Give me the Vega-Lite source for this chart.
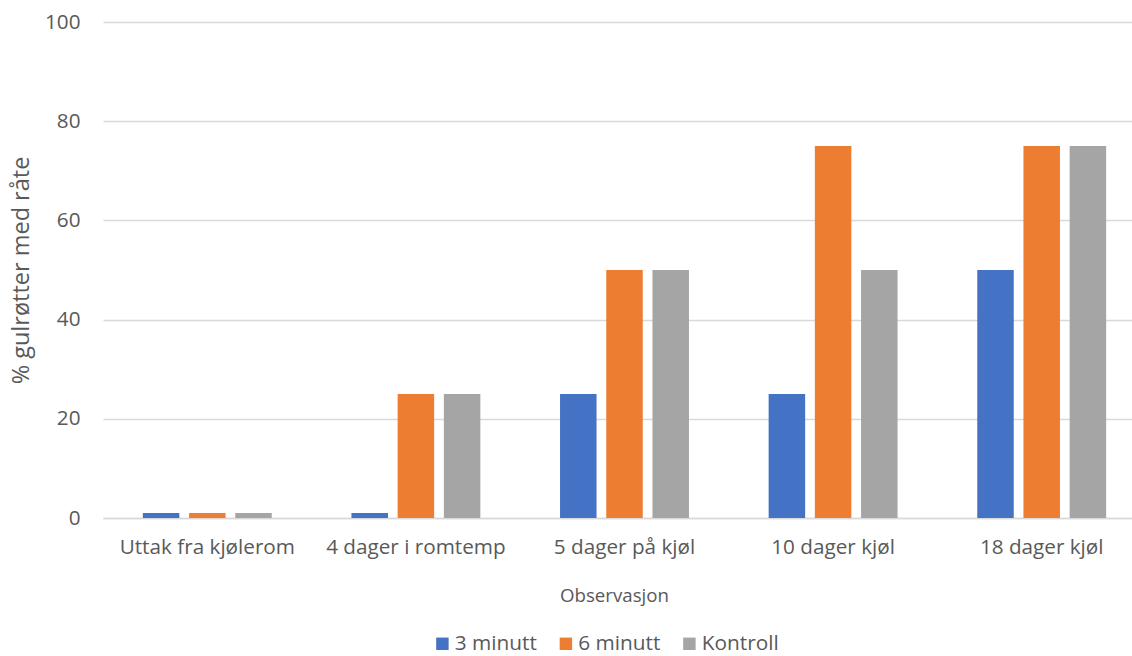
{
  "$schema": "https://vega.github.io/schema/vega-lite/v6.json",
  "autosize": "none",
  "width": 1029,
  "height": 496,
  "padding": {"left": 103, "top": 22, "right": 0, "bottom": 138},
  "background": "white",
  "config": {
    "font": "Open Sans",
    "view": {"stroke": null},
    "axis": {"labelColor": "#595959", "titleColor": "#595959", "labelFont": "Open Sans", "titleFont": "Open Sans", "titleFontWeight": "normal"}
  },
  "data": {
    "values": [
      {"obs": "Uttak fra kjølerom", "gruppe": "3 minutt", "pct": 1},
      {"obs": "Uttak fra kjølerom", "gruppe": "6 minutt", "pct": 1},
      {"obs": "Uttak fra kjølerom", "gruppe": "Kontroll", "pct": 1},
      {"obs": "4 dager i romtemp", "gruppe": "3 minutt", "pct": 1},
      {"obs": "4 dager i romtemp", "gruppe": "6 minutt", "pct": 25},
      {"obs": "4 dager i romtemp", "gruppe": "Kontroll", "pct": 25},
      {"obs": "5 dager på kjøl", "gruppe": "3 minutt", "pct": 25},
      {"obs": "5 dager på kjøl", "gruppe": "6 minutt", "pct": 50},
      {"obs": "5 dager på kjøl", "gruppe": "Kontroll", "pct": 50},
      {"obs": "10 dager kjøl", "gruppe": "3 minutt", "pct": 25},
      {"obs": "10 dager kjøl", "gruppe": "6 minutt", "pct": 75},
      {"obs": "10 dager kjøl", "gruppe": "Kontroll", "pct": 50},
      {"obs": "18 dager kjøl", "gruppe": "3 minutt", "pct": 50},
      {"obs": "18 dager kjøl", "gruppe": "6 minutt", "pct": 75},
      {"obs": "18 dager kjøl", "gruppe": "Kontroll", "pct": 75}
    ]
  },
  "mark": {"type": "bar"},
  "encoding": {
    "x": {
      "field": "obs",
      "type": "nominal",
      "sort": null,
      "scale": {"range": [0, 1043], "paddingInner": 0.382, "paddingOuter": 0.191},
      "axis": {
        "title": "Observasjon",
        "titleFontSize": 18.7,
        "titlePadding": 30,
        "titleX": 511,
        "labelFontSize": 20.7,
        "labelAngle": 0,
        "labelPadding": 19,
        "ticks": false,
        "domainColor": "#D9D9D9",
        "domainWidth": 1.5,
        "grid": false
      }
    },
    "xOffset": {
      "field": "gruppe",
      "type": "nominal",
      "scale": {"paddingInner": 0.21, "paddingOuter": 0}
    },
    "y": {
      "field": "pct",
      "type": "quantitative",
      "scale": {"domain": [0, 100], "nice": false},
      "axis": {
        "title": "% gulrøtter med råte",
        "titleFontSize": 23.5,
        "titlePadding": 11,
        "labelFontSize": 20.7,
        "labelPadding": 23,
        "values": [0, 20, 40, 60, 80, 100],
        "ticks": false,
        "domain": false,
        "gridColor": "#D9D9D9",
        "gridWidth": 1.5
      }
    },
    "color": {
      "field": "gruppe",
      "type": "nominal",
      "scale": {"domain": ["3 minutt", "6 minutt", "Kontroll"], "range": ["#4472C4", "#ED7D31", "#A5A5A5"]},
      "legend": {
        "title": null,
        "orient": "none",
        "direction": "horizontal",
        "legendX": 329,
        "legendY": 611,
        "symbolType": "square",
        "symbolSize": 155,
        "symbolStrokeWidth": 0,
        "symbolOpacity": 1,
        "labelFontSize": 20.8,
        "labelColor": "#595959",
        "labelOffset": 2,
        "columnPadding": 18.5
      }
    }
  }
}
